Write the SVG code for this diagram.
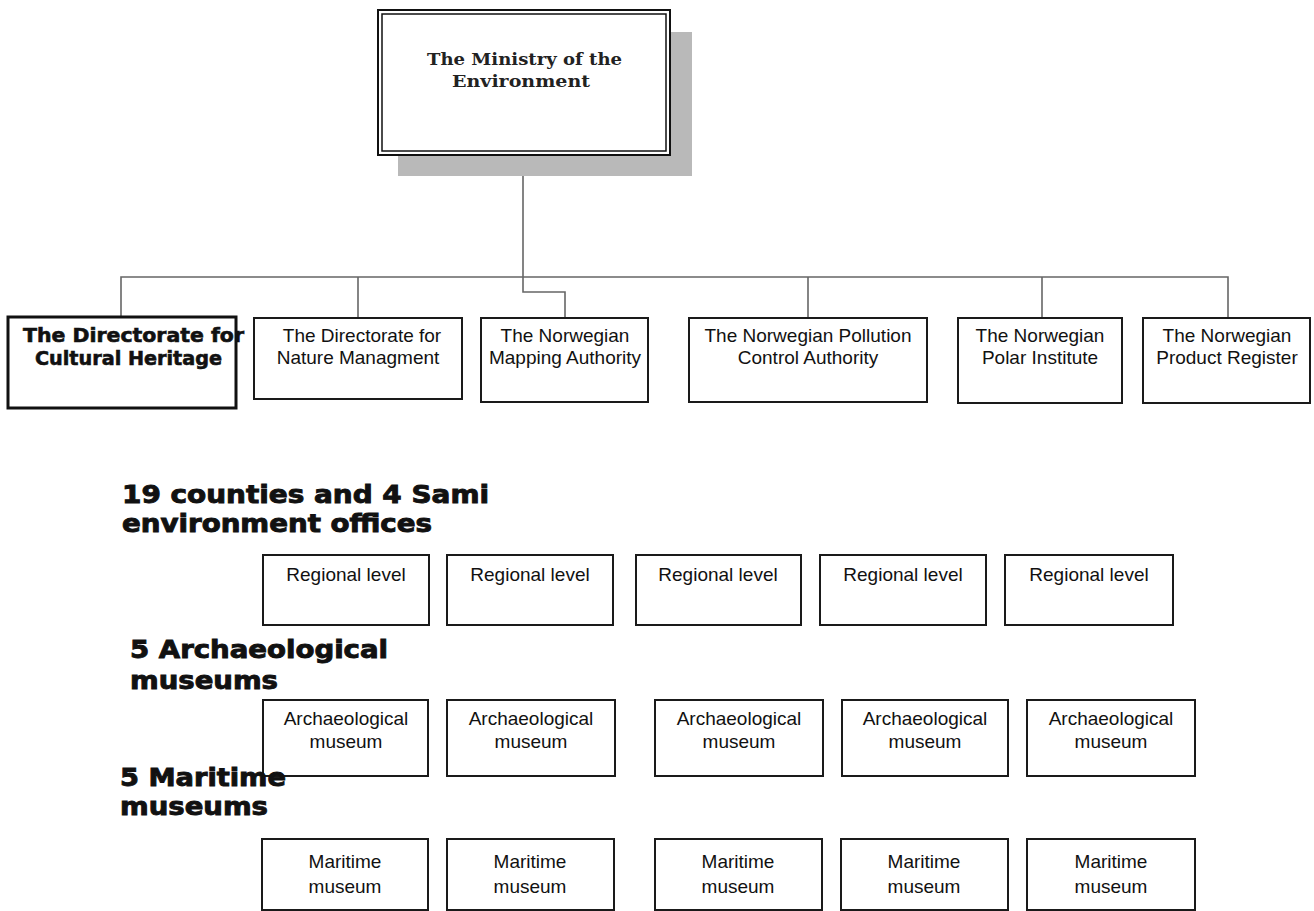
<svg xmlns="http://www.w3.org/2000/svg" width="1314" height="911" viewBox="0 0 1314 911">
<style>
.bg{fill:#ffffff}
.box{fill:#ffffff;stroke:#1a1a1a;stroke-width:2}
.conn{fill:none;stroke:#666;stroke-width:1.6}
.t{font-family:"Liberation Sans",Arial,sans-serif;font-size:19px;fill:#111;text-anchor:middle}
.tb{font-family:"DejaVu Sans",sans-serif;font-size:19px;font-weight:bold;fill:#111;stroke:#111;stroke-width:0.6}
.ts{font-family:"DejaVu Serif",serif;font-size:17px;font-weight:bold;fill:#222}
.h{font-family:"DejaVu Sans",sans-serif;font-size:24px;font-weight:bold;fill:#111;stroke:#111;stroke-width:0.9}
</style>
<rect class="bg" x="0" y="0" width="1314" height="911"/>
<g id="connectors">
<path class="conn" d="M523 155 V292 H565 V318"/>
<path class="conn" d="M121 318 V277 H1228 V318"/>
<path class="conn" d="M358 277 V318"/>
<path class="conn" d="M808 277 V318"/>
<path class="conn" d="M1042 277 V318"/>
</g>
<g id="ministry">
<rect x="398" y="32" width="294" height="144" fill="#b9b9b9"/>
<rect x="378" y="10" width="292" height="145" fill="#fff" stroke="#111" stroke-width="2"/>
<rect x="382" y="14" width="284" height="137" fill="none" stroke="#111" stroke-width="1.5"/>
<text class="ts" x="427" y="65" textLength="195" lengthAdjust="spacingAndGlyphs">The Ministry of the</text>
<text class="ts" x="452" y="87" textLength="138" lengthAdjust="spacingAndGlyphs">Environment</text>
</g>
<g id="cultural-heritage">
<text class="tb" x="23" y="342" textLength="221" lengthAdjust="spacingAndGlyphs">The Directorate for</text>
<text class="tb" x="35" y="365" textLength="187" lengthAdjust="spacingAndGlyphs">Cultural Heritage</text>
<rect x="8" y="317" width="228" height="91" fill="none" stroke="#111" stroke-width="3"/>
</g>
<g id="nature">
<rect class="box" x="254" y="318" width="208" height="81"/>
<text class="t" x="362" y="342">The Directorate for</text>
<text class="t" x="358" y="364">Nature Managment</text>
</g>
<g id="mapping">
<rect class="box" x="481" y="318" width="167" height="84"/>
<text class="t" x="565" y="342">The Norwegian</text>
<text class="t" x="565" y="364">Mapping Authority</text>
</g>
<g id="pollution">
<rect class="box" x="689" y="318" width="238" height="84"/>
<text class="t" x="808" y="342">The Norwegian Pollution</text>
<text class="t" x="808" y="364">Control Authority</text>
</g>
<g id="polar">
<rect class="box" x="958" y="318" width="164" height="85"/>
<text class="t" x="1040" y="342">The Norwegian</text>
<text class="t" x="1040" y="364">Polar Institute</text>
</g>
<g id="product">
<rect class="box" x="1143" y="318" width="167" height="85"/>
<text class="t" x="1227" y="342">The Norwegian</text>
<text class="t" x="1227" y="364">Product Register</text>
</g>
<g id="heading-counties">
<text class="h" x="122" y="503" textLength="367" lengthAdjust="spacingAndGlyphs">19 counties and 4 Sami</text>
<text class="h" x="122" y="532" textLength="310" lengthAdjust="spacingAndGlyphs">environment offices</text>
</g>
<g id="regional-1"><rect class="box" x="263" y="555" width="166" height="70"/><text class="t" x="346" y="581">Regional level</text></g>
<g id="regional-2"><rect class="box" x="447" y="555" width="166" height="70"/><text class="t" x="530" y="581">Regional level</text></g>
<g id="regional-3"><rect class="box" x="636" y="555" width="165" height="70"/><text class="t" x="718" y="581">Regional level</text></g>
<g id="regional-4"><rect class="box" x="820" y="555" width="166" height="70"/><text class="t" x="903" y="581">Regional level</text></g>
<g id="regional-5"><rect class="box" x="1005" y="555" width="168" height="70"/><text class="t" x="1089" y="581">Regional level</text></g>
<g id="heading-archaeological">
<text class="h" x="130" y="658" textLength="258" lengthAdjust="spacingAndGlyphs">5 Archaeological</text>
<text class="h" x="130" y="689" textLength="148" lengthAdjust="spacingAndGlyphs">museums</text>
</g>
<g id="archaeological-1"><rect class="box" x="263" y="700" width="165" height="76"/><text class="t" x="346" y="725">Archaeological</text><text class="t" x="346" y="748">museum</text></g>
<g id="archaeological-2"><rect class="box" x="447" y="700" width="168" height="76"/><text class="t" x="531" y="725">Archaeological</text><text class="t" x="531" y="748">museum</text></g>
<g id="archaeological-3"><rect class="box" x="655" y="700" width="168" height="76"/><text class="t" x="739" y="725">Archaeological</text><text class="t" x="739" y="748">museum</text></g>
<g id="archaeological-4"><rect class="box" x="842" y="700" width="166" height="76"/><text class="t" x="925" y="725">Archaeological</text><text class="t" x="925" y="748">museum</text></g>
<g id="archaeological-5"><rect class="box" x="1027" y="700" width="168" height="76"/><text class="t" x="1111" y="725">Archaeological</text><text class="t" x="1111" y="748">museum</text></g>
<g id="heading-maritime">
<text class="h" x="120" y="786" textLength="166" lengthAdjust="spacingAndGlyphs">5 Maritime</text>
<text class="h" x="120" y="815" textLength="148" lengthAdjust="spacingAndGlyphs">museums</text>
</g>
<g id="maritime-1"><rect class="box" x="262" y="839" width="166" height="71"/><text class="t" x="345" y="868">Maritime</text><text class="t" x="345" y="893">museum</text></g>
<g id="maritime-2"><rect class="box" x="447" y="839" width="167" height="71"/><text class="t" x="530" y="868">Maritime</text><text class="t" x="530" y="893">museum</text></g>
<g id="maritime-3"><rect class="box" x="655" y="839" width="167" height="71"/><text class="t" x="738" y="868">Maritime</text><text class="t" x="738" y="893">museum</text></g>
<g id="maritime-4"><rect class="box" x="841" y="839" width="167" height="71"/><text class="t" x="924" y="868">Maritime</text><text class="t" x="924" y="893">museum</text></g>
<g id="maritime-5"><rect class="box" x="1027" y="839" width="168" height="71"/><text class="t" x="1111" y="868">Maritime</text><text class="t" x="1111" y="893">museum</text></g>
</svg>
